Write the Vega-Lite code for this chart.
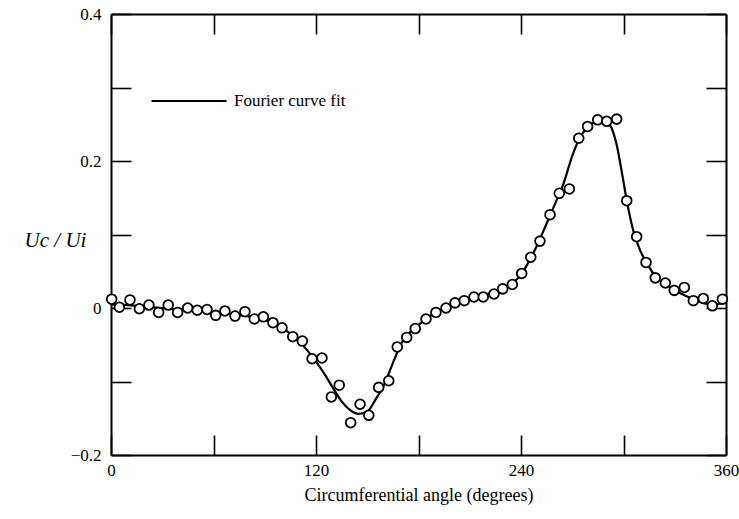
{
  "$schema": "https://vega.github.io/schema/vega-lite/v6.json",
  "width": 615,
  "height": 441,
  "autosize": {"type": "none"},
  "padding": {"left": 111, "top": 14, "right": 13, "bottom": 64},
  "background": "white",
  "config": {
    "view": {"stroke": null},
    "font": "Liberation Serif",
    "axis": {"grid": false, "domainColor": "black", "domainWidth": 2, "tickColor": "black", "tickWidth": 1.6, "labelColor": "black", "titleColor": "black", "labelFont": "Liberation Serif", "titleFont": "Liberation Serif"}
  },
  "resolve": {"axis": {"x": "independent", "y": "independent"}},
  "datasets": {
    "measured": [
      {"angle": 0.4, "ratio": 0.012}, {"angle": 4.9, "ratio": 0.001}, {"angle": 11.1, "ratio": 0.011}, {"angle": 16.6, "ratio": -0.001},
      {"angle": 22.2, "ratio": 0.004}, {"angle": 27.9, "ratio": -0.006}, {"angle": 33.5, "ratio": 0.004}, {"angle": 39.0, "ratio": -0.006},
      {"angle": 44.9, "ratio": 0.000}, {"angle": 50.5, "ratio": -0.003}, {"angle": 56.2, "ratio": -0.002}, {"angle": 61.3, "ratio": -0.010},
      {"angle": 66.7, "ratio": -0.004}, {"angle": 72.6, "ratio": -0.011}, {"angle": 78.4, "ratio": -0.005}, {"angle": 83.9, "ratio": -0.015},
      {"angle": 89.2, "ratio": -0.012}, {"angle": 94.8, "ratio": -0.020}, {"angle": 100.1, "ratio": -0.027}, {"angle": 106.4, "ratio": -0.039},
      {"angle": 112.0, "ratio": -0.045}, {"angle": 117.7, "ratio": -0.069}, {"angle": 123.5, "ratio": -0.068}, {"angle": 129.0, "ratio": -0.121},
      {"angle": 133.6, "ratio": -0.105}, {"angle": 140.3, "ratio": -0.156}, {"angle": 145.8, "ratio": -0.131}, {"angle": 150.9, "ratio": -0.146},
      {"angle": 156.7, "ratio": -0.108}, {"angle": 162.6, "ratio": -0.099}, {"angle": 167.6, "ratio": -0.053}, {"angle": 173.1, "ratio": -0.040},
      {"angle": 178.1, "ratio": -0.028}, {"angle": 184.4, "ratio": -0.015}, {"angle": 190.2, "ratio": -0.006}, {"angle": 196.1, "ratio": 0.000},
      {"angle": 201.4, "ratio": 0.007}, {"angle": 206.8, "ratio": 0.010}, {"angle": 212.5, "ratio": 0.015}, {"angle": 217.9, "ratio": 0.015},
      {"angle": 224.2, "ratio": 0.019}, {"angle": 229.3, "ratio": 0.026}, {"angle": 234.9, "ratio": 0.032}, {"angle": 240.4, "ratio": 0.047},
      {"angle": 245.7, "ratio": 0.069}, {"angle": 251.1, "ratio": 0.091}, {"angle": 257.0, "ratio": 0.127}, {"angle": 262.4, "ratio": 0.156},
      {"angle": 268.3, "ratio": 0.162}, {"angle": 273.8, "ratio": 0.231}, {"angle": 279.0, "ratio": 0.247}, {"angle": 284.9, "ratio": 0.256},
      {"angle": 290.2, "ratio": 0.254}, {"angle": 296.0, "ratio": 0.257}, {"angle": 301.9, "ratio": 0.146}, {"angle": 307.7, "ratio": 0.097},
      {"angle": 313.2, "ratio": 0.062}, {"angle": 318.6, "ratio": 0.041}, {"angle": 324.5, "ratio": 0.034}, {"angle": 329.7, "ratio": 0.024},
      {"angle": 335.6, "ratio": 0.028}, {"angle": 340.9, "ratio": 0.010}, {"angle": 346.7, "ratio": 0.013}, {"angle": 352.0, "ratio": 0.003},
      {"angle": 357.9, "ratio": 0.012}
    ],
    "fit": [
      {"angle": 0, "ratio": 0.005}, {"angle": 10, "ratio": 0.004}, {"angle": 20, "ratio": 0.002}, {"angle": 30, "ratio": 0.000},
      {"angle": 40, "ratio": -0.002}, {"angle": 50, "ratio": -0.004}, {"angle": 60, "ratio": -0.006}, {"angle": 70, "ratio": -0.008},
      {"angle": 80, "ratio": -0.011}, {"angle": 90, "ratio": -0.016}, {"angle": 100, "ratio": -0.027}, {"angle": 105, "ratio": -0.035},
      {"angle": 110, "ratio": -0.045}, {"angle": 115, "ratio": -0.058}, {"angle": 120, "ratio": -0.073}, {"angle": 125, "ratio": -0.090},
      {"angle": 130, "ratio": -0.109}, {"angle": 135, "ratio": -0.127}, {"angle": 140, "ratio": -0.139}, {"angle": 145, "ratio": -0.144},
      {"angle": 150, "ratio": -0.141}, {"angle": 155, "ratio": -0.124}, {"angle": 160, "ratio": -0.104}, {"angle": 165, "ratio": -0.075},
      {"angle": 170, "ratio": -0.048}, {"angle": 175, "ratio": -0.033}, {"angle": 180, "ratio": -0.023}, {"angle": 185, "ratio": -0.014},
      {"angle": 190, "ratio": -0.006}, {"angle": 195, "ratio": 0.000}, {"angle": 200, "ratio": 0.006}, {"angle": 205, "ratio": 0.010},
      {"angle": 210, "ratio": 0.014}, {"angle": 215, "ratio": 0.017}, {"angle": 220, "ratio": 0.019}, {"angle": 225, "ratio": 0.022},
      {"angle": 230, "ratio": 0.027}, {"angle": 235, "ratio": 0.034}, {"angle": 240, "ratio": 0.045}, {"angle": 245, "ratio": 0.065},
      {"angle": 250, "ratio": 0.088}, {"angle": 255, "ratio": 0.115}, {"angle": 260, "ratio": 0.142}, {"angle": 265, "ratio": 0.170},
      {"angle": 270, "ratio": 0.207}, {"angle": 275, "ratio": 0.234}, {"angle": 280, "ratio": 0.248}, {"angle": 285, "ratio": 0.254},
      {"angle": 290, "ratio": 0.253}, {"angle": 293, "ratio": 0.245}, {"angle": 296, "ratio": 0.222}, {"angle": 299, "ratio": 0.185},
      {"angle": 302, "ratio": 0.145}, {"angle": 306, "ratio": 0.103}, {"angle": 310, "ratio": 0.077}, {"angle": 314, "ratio": 0.060},
      {"angle": 318, "ratio": 0.045}, {"angle": 324, "ratio": 0.033}, {"angle": 330, "ratio": 0.024}, {"angle": 336, "ratio": 0.017},
      {"angle": 342, "ratio": 0.011}, {"angle": 348, "ratio": 0.006}, {"angle": 354, "ratio": 0.005}, {"angle": 360, "ratio": 0.009}
    ]
  },
  "layer": [
    {
      "data": {"name": "fit"},
      "mark": {"type": "line", "interpolate": "monotone", "strokeWidth": 2.2},
      "encoding": {
        "x": {
          "field": "angle", "type": "quantitative",
          "scale": {"domain": [0, 360], "nice": false, "zero": false},
          "axis": {
            "orient": "bottom", "values": [0, 60, 120, 180, 240, 300, 360],
            "labelExpr": "datum.value % 120 == 0 ? format(datum.value, 'd') : ''",
            "tickSize": -20, "labelPadding": 27, "labelFontSize": 17, "labelFlush": false,
            "title": "Circumferential angle (degrees)", "titleFontSize": 18, "titleFontWeight": "normal", "titlePadding": 8
          }
        },
        "y": {
          "field": "ratio", "type": "quantitative",
          "scale": {"domain": [-0.2, 0.4], "nice": false, "zero": false},
          "axis": {
            "orient": "left", "values": [-0.2, -0.1, 0, 0.1, 0.2, 0.3, 0.4],
            "labelExpr": "round(datum.value * 10) == 4 ? '0.4' : round(datum.value * 10) == 2 ? '0.2' : round(datum.value * 10) == 0 ? '0' : round(datum.value * 10) == -2 ? '−0.2' : ''",
            "tickSize": -20, "labelPadding": 30, "labelFontSize": 17, "labelFlush": false,
            "title": "Uc / Ui", "titleAngle": 0, "titleFontStyle": "italic", "titleFontWeight": "normal", "titleFontSize": 21,
            "titleAlign": "center", "titleBaseline": "middle", "titleX": -56, "titleY": 226
          }
        },
        "color": {
          "datum": "Fourier curve fit",
          "scale": {"range": ["black"]},
          "legend": {
            "orient": "none", "legendX": 39, "legendY": 48, "title": null,
            "symbolType": "stroke", "symbolSize": 5625, "symbolStrokeWidth": 2.2, "symbolStrokeColor": "black",
            "labelFont": "Liberation Serif", "labelFontSize": 17, "labelColor": "black", "labelOffset": 6, "padding": 0
          }
        }
      }
    },
    {
      "data": {"name": "measured"},
      "mark": {"type": "point", "shape": "circle", "filled": false, "fill": "white", "fillOpacity": 1, "stroke": "black", "strokeWidth": 1.8, "size": 95, "opacity": 1},
      "encoding": {
        "x": {
          "field": "angle", "type": "quantitative",
          "axis": {"orient": "top", "values": [0, 60, 120, 180, 240, 300, 360], "labels": false, "tickSize": -20, "title": null}
        },
        "y": {
          "field": "ratio", "type": "quantitative",
          "axis": {"orient": "right", "values": [-0.2, -0.1, 0, 0.1, 0.2, 0.3, 0.4], "labels": false, "tickSize": -20, "title": null}
        }
      }
    }
  ]
}
